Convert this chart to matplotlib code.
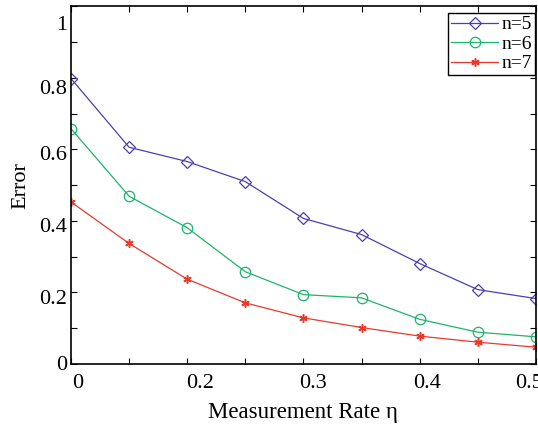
import matplotlib
matplotlib.use("Agg")
import matplotlib.pyplot as plt
import numpy as np

plt.rcParams["font.family"] = ["Liberation Serif", "DejaVu Serif"]

# measurement rate and error for each n
rate = [0.10, 0.15, 0.20, 0.25, 0.30, 0.35, 0.40, 0.45, 0.50]
err_n5 = [0.798, 0.606, 0.566, 0.510, 0.407, 0.362, 0.281, 0.208, 0.183]
err_n6 = [0.658, 0.469, 0.381, 0.258, 0.194, 0.185, 0.125, 0.089, 0.076]
err_n7 = [0.453, 0.337, 0.237, 0.171, 0.129, 0.102, 0.078, 0.061, 0.047]

# tick labels as printed on the original (offset from the drawn ticks)
xlabel_pos = [0.106, 0.211, 0.3085, 0.406, 0.494]
xlabel_txt = ["0", "0.2", "0.3", "0.4", "0.5"]
ylabel_pos = [0.003, 0.187, 0.388, 0.589, 0.774, 0.953]
ylabel_txt = ["0", "0.2", "0.4", "0.6", "0.8", "1"]

BLUE = "#4b3fb4"
GREEN = "#1db46c"
RED = "#e63a2e"

fig = plt.figure(figsize=(5.38, 4.24), dpi=100)
ax = fig.add_axes([0.132, 0.1415, 0.864, 0.8435])

ax.plot(rate, err_n5, color=BLUE, lw=0.9, marker="D", ms=6.5, mfc="none",
        mec=BLUE, mew=0.9, label="n=5")
ax.plot(rate, err_n6, color=GREEN, lw=0.9, marker="o", ms=7.5, mfc="none",
        mec=GREEN, mew=0.9, label="n=6")
ax.plot(rate, err_n7, color=RED, lw=0.9, marker=(6, 2, 0), ms=6, mfc="none",
        mec=RED, mew=1.1, label="n=7")

ax.set_xlim(0.1, 0.5)
ax.set_ylim(0, 1)

ax.set_xticks(np.arange(0.1, 0.501, 0.05), minor=True)
ax.set_yticks(np.arange(0.0, 1.001, 0.1), minor=True)
ax.set_xticks(xlabel_pos)
ax.set_xticklabels(xlabel_txt)
ax.set_yticks(ylabel_pos)
ax.set_yticklabels(ylabel_txt)
ax.tick_params(which="major", length=0, labelsize=16, pad=3)
ax.tick_params(which="minor", direction="in", length=4, width=0.8,
               top=True, right=True)
ax.tick_params(axis="x", which="major", pad=7)

for sp in ax.spines.values():
    sp.set_linewidth(1.2)

ax.set_xlabel("Measurement Rate \u03b7", fontsize=16.5, labelpad=7)
ax.set_ylabel("Error", fontsize=16, labelpad=6)

leg = ax.legend(loc="upper right", bbox_to_anchor=(0.999, 0.982),
                fontsize=14, fancybox=False, edgecolor="black",
                framealpha=1, borderpad=0.15, labelspacing=0.1,
                handlelength=2.4, handletextpad=0.2, borderaxespad=0)
leg.get_frame().set_linewidth(1.0)

fig.savefig("out.png", dpi=100)
